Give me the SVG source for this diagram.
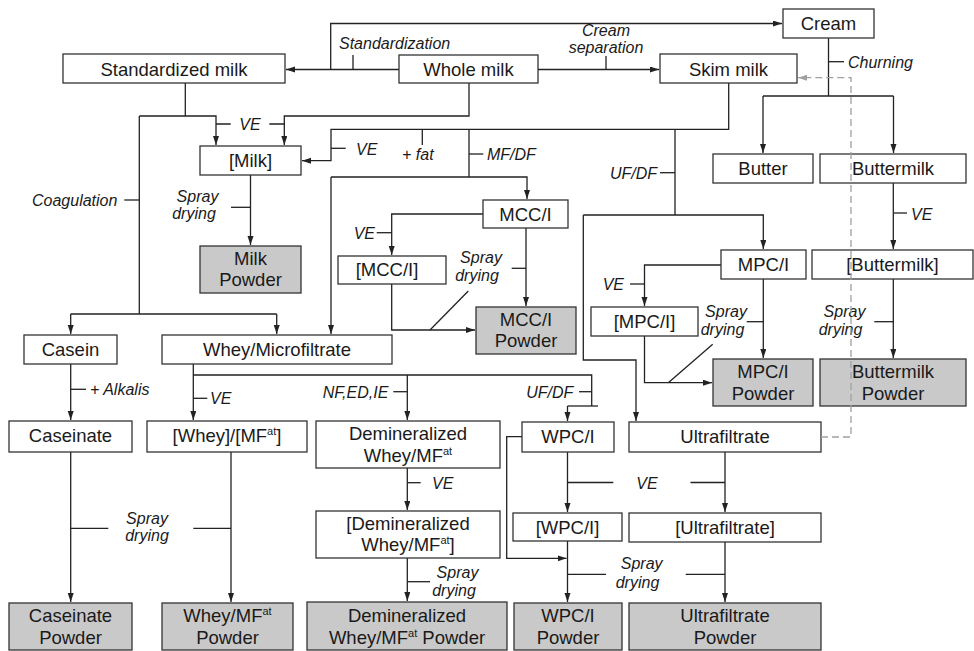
<svg xmlns="http://www.w3.org/2000/svg" width="974" height="651" viewBox="0 0 974 651">
<style>
.b rect{fill:#fff;stroke:#333;stroke-width:1.3}
.p rect{fill:#c9c9c9;stroke:#333;stroke-width:1.3}
.b text,.p text{font-family:"Liberation Sans",Arial,sans-serif;font-size:18.5px;fill:#1a1a1a;text-anchor:middle}
.c path{fill:none;stroke:#222;stroke-width:1.3}
.c .a{marker-end:url(#ah)}
.l text{font-family:"Liberation Sans",Arial,sans-serif;font-size:16px;font-style:italic;fill:#1a1a1a}
.m{text-anchor:middle}
.e{text-anchor:end}
.d{fill:none;stroke:#a0a0a0;stroke-width:1.3;stroke-dasharray:7,4;marker-end:url(#ahg)}
</style>
<defs>
<marker id="ah" markerUnits="userSpaceOnUse" markerWidth="10" markerHeight="8" refX="9" refY="3" orient="auto"><path d="M0,0 L9,3 L0,6 z" fill="#222"/></marker>
<marker id="ahg" markerUnits="userSpaceOnUse" markerWidth="10" markerHeight="8" refX="9" refY="3" orient="auto"><path d="M0,0 L9,3 L0,6 z" fill="#a0a0a0"/></marker>
</defs>
<rect width="974" height="651" fill="#fff"/>
<g class="c" id="connectors">
<path class="a" d="M399,69.5 H286"/>
<path class="a" d="M330.7,69.5 V23.5 H782"/>
<path d="M353,69.5 V55"/>
<path class="a" d="M538,69.5 H659"/>
<path d="M606,69.5 V56"/>
<path d="M828.5,38 V96"/>
<path d="M828.5,61.7 H844"/>
<path d="M763,96 H893.5"/>
<path class="a" d="M763,96 V153"/>
<path class="a" d="M893.5,96 V153"/>
<path d="M185.3,83 V116"/>
<path class="a" d="M139.3,116 H216 V145"/>
<path class="a" d="M469,83 V116 H284.3 V145"/>
<path d="M216,124 H230.7 M269.3,124 H284.3"/>
<path d="M139.3,116 V314"/>
<path d="M124.3,200 H139.3"/>
<path d="M70.7,314 H276.7"/>
<path class="a" d="M70.7,314 V334"/>
<path class="a" d="M276.7,314 V334"/>
<path class="a" d="M250.5,175 V245"/>
<path d="M231,207.3 H250.5"/>
<path class="a" d="M728.7,83 V129.3 H331 V160.7 H302"/>
<path d="M331,148.3 H345.7"/>
<path d="M422.3,129.3 V145"/>
<path d="M469,129.3 V177"/>
<path d="M469,154 H483.3"/>
<path class="a" d="M331,177 H527 V199"/>
<path class="a" d="M331,177 V334"/>
<path d="M675,129.3 V215"/>
<path d="M660,172.7 H675"/>
<path class="a" d="M583.3,215 H763.3 V249"/>
<path class="a" d="M583.3,215 V360 H636 V421"/>
<path class="a" d="M483,214 H391.7 V255"/>
<path d="M376.7,232.7 H391.7"/>
<path class="a" d="M526,228 V306"/>
<path d="M511.7,268.3 H526"/>
<path class="a" d="M391.7,284 V330 H475"/>
<path d="M430,330 L468.3,291"/>
<path class="a" d="M721,265 H644.5 V306"/>
<path d="M630,284 H644.5"/>
<path class="a" d="M763.3,279 V358"/>
<path d="M746.7,321.7 H763.3"/>
<path class="a" d="M644.5,336 V382.7 H712"/>
<path d="M668.3,382.7 L712.7,344.3"/>
<path class="a" d="M893.3,183 V249"/>
<path d="M893.3,213 H907"/>
<path class="a" d="M893.3,279 V358"/>
<path d="M874.3,321.7 H893.3"/>
<path class="a" d="M70.7,364 V420"/>
<path d="M70.7,389.3 H86"/>
<path class="a" d="M193.3,364 V420"/>
<path d="M193.3,398.3 H207.3"/>
<path d="M193.3,375 H591.7 V406"/>
<path d="M567.5,406 H598"/>
<path class="a" d="M567.5,406 V421"/>
<path class="a" d="M407.3,375 V420"/>
<path d="M393.3,391.7 H407.3"/>
<path d="M579,391.7 H591.7"/>
<path class="a" d="M407.3,468 V510"/>
<path d="M407.3,482.7 H420.7"/>
<path class="a" d="M407.3,558 V601"/>
<path d="M407.3,581.7 H430"/>
<path class="a" d="M567.5,452 V512"/>
<path d="M567.5,482.5 H613.3"/>
<path class="a" d="M522,436.7 H506.7 V558.3 H566.5"/>
<path class="a" d="M567.5,541 V602"/>
<path d="M567.5,574.3 H606"/>
<path class="a" d="M725,452 V512"/>
<path d="M690.5,482.5 H725"/>
<path class="a" d="M725,542 V602"/>
<path d="M685.7,574.3 H725"/>
<path class="a" d="M70.7,452 V602"/>
<path d="M70.7,528.3 H108.3"/>
<path class="a" d="M231,452 V602"/>
<path d="M193.3,528.3 H231"/>
</g>
<g class="l" id="labels">
<text x="339" y="49">Standardization</text>
<text class="m" x="606" y="35.5">Cream</text>
<text class="m" x="606" y="53">separation</text>
<text x="848" y="67.5">Churning</text>
<text class="m" x="250" y="130">VE</text>
<text x="356" y="155">VE</text>
<text x="402" y="160">+ fat</text>
<text x="487" y="160">MF/DF</text>
<text class="e" x="657" y="178.5">UF/DF</text>
<text x="32" y="206">Coagulation</text>
<text class="m" x="197.5" y="202">Spray</text>
<text class="m" x="194" y="219">drying</text>
<text class="e" x="375" y="238.5">VE</text>
<text class="m" x="481" y="262.5">Spray</text>
<text class="m" x="477" y="281">drying</text>
<text class="e" x="624" y="290">VE</text>
<text class="m" x="726" y="316.5">Spray</text>
<text class="m" x="722.5" y="335">drying</text>
<text class="m" x="844.5" y="316.5">Spray</text>
<text class="m" x="840.5" y="335">drying</text>
<text x="911" y="219.5">VE</text>
<text x="90" y="395">+ Alkalis</text>
<text x="210" y="404">VE</text>
<text class="e" x="388.3" y="397.5">NF,ED,IE</text>
<text class="e" x="573.3" y="397.5">UF/DF</text>
<text x="432" y="488.5">VE</text>
<text class="m" x="647" y="488.5">VE</text>
<text class="m" x="147" y="523.5">Spray</text>
<text class="m" x="147" y="541">drying</text>
<text class="m" x="457.5" y="577.5">Spray</text>
<text class="m" x="454" y="595.5">drying</text>
<text class="m" x="641.7" y="569">Spray</text>
<text class="m" x="637.5" y="588">drying</text>
</g>
<g class="b" id="standardized-milk"><rect x="63" y="54" width="222" height="29"/><text x="174" y="75.5">Standardized milk</text></g>
<g class="b" id="whole-milk"><rect x="399" y="55" width="139" height="28"/><text x="468.5" y="75.5">Whole milk</text></g>
<g class="b" id="skim-milk"><rect x="660" y="54" width="137" height="29"/><text x="728.5" y="75.5">Skim milk</text></g>
<g class="b" id="cream"><rect x="783" y="9" width="91" height="29"/><text x="828.5" y="30">Cream</text></g>
<g class="b" id="butter"><rect x="713" y="154" width="100" height="29"/><text x="763" y="175">Butter</text></g>
<g class="b" id="buttermilk"><rect x="820" y="154" width="146" height="29"/><text x="893" y="175">Buttermilk</text></g>
<g class="b" id="milk-conc"><rect x="200" y="146" width="101" height="29"/><text x="250.5" y="167">[Milk]</text></g>
<g class="p" id="milk-powder"><rect x="200" y="246" width="101" height="47"/><text x="250.5" y="265">Milk</text><text x="250.5" y="286">Powder</text></g>
<g class="b" id="mcci"><rect x="483" y="200" width="85" height="28"/><text x="525.5" y="221">MCC/I</text></g>
<g class="b" id="mcci-conc"><rect x="338" y="256" width="108" height="28"/><text x="387" y="276">[MCC/I]</text></g>
<g class="p" id="mcci-powder"><rect x="476" y="307" width="100" height="47"/><text x="526" y="325.5">MCC/I</text><text x="526" y="347">Powder</text></g>
<g class="b" id="mpci"><rect x="721" y="250" width="85" height="29"/><text x="763.5" y="271">MPC/I</text></g>
<g class="b" id="mpci-conc"><rect x="591" y="307" width="107" height="29"/><text x="644.5" y="328">[MPC/I]</text></g>
<g class="p" id="mpci-powder"><rect x="713" y="359" width="100" height="47"/><text x="763" y="377.5">MPC/I</text><text x="763" y="399.5">Powder</text></g>
<g class="b" id="buttermilk-conc"><rect x="812" y="250" width="161" height="29"/><text x="892.5" y="271">[Buttermilk]</text></g>
<g class="p" id="buttermilk-powder"><rect x="820" y="359" width="146" height="47"/><text x="893" y="377.5">Buttermilk</text><text x="893" y="399.5">Powder</text></g>
<g class="b" id="casein"><rect x="24" y="335" width="93" height="29"/><text x="70.5" y="355.5">Casein</text></g>
<g class="b" id="whey"><rect x="162" y="335" width="230" height="29"/><text x="277" y="355.5">Whey/Microfiltrate</text></g>
<g class="b" id="caseinate"><rect x="9" y="421" width="123" height="31"/><text x="70.5" y="442">Caseinate</text></g>
<g class="b" id="whey-conc"><rect x="147" y="421" width="160" height="31"/><text x="227" y="442">[Whey]/[MF<tspan font-size="11" dy="-7">at</tspan><tspan dy="7">]</tspan></text></g>
<g class="b" id="demin"><rect x="316" y="421" width="184" height="47"/><text x="408" y="440">Demineralized</text><text x="408" y="461.5">Whey/MF<tspan font-size="11" dy="-7">at</tspan></text></g>
<g class="b" id="demin-conc"><rect x="316" y="511" width="184" height="47"/><text x="408" y="529.5">[Demineralized</text><text x="408" y="551">Whey/MF<tspan font-size="11" dy="-7">at</tspan><tspan dy="7">]</tspan></text></g>
<g class="b" id="wpci"><rect x="522" y="422" width="92" height="30"/><text x="568" y="442.5">WPC/I</text></g>
<g class="b" id="ultrafiltrate"><rect x="629" y="422" width="192" height="30"/><text x="725" y="442.5">Ultrafiltrate</text></g>
<g class="b" id="wpci-conc"><rect x="513" y="513" width="109" height="28"/><text x="567.5" y="533.5">[WPC/I]</text></g>
<g class="b" id="ultrafiltrate-conc"><rect x="629" y="513" width="192" height="29"/><text x="725" y="533.5">[Ultrafiltrate]</text></g>
<g class="p" id="caseinate-powder"><rect x="9" y="603" width="123" height="47"/><text x="70.5" y="622">Caseinate</text><text x="70.5" y="643.5">Powder</text></g>
<g class="p" id="whey-powder"><rect x="162" y="603" width="131" height="47"/><text x="227.5" y="622">Whey/MF<tspan font-size="11" dy="-7">at</tspan></text><text x="227.5" y="643.5">Powder</text></g>
<g class="p" id="demin-powder"><rect x="307" y="602" width="200" height="48"/><text x="407" y="622">Demineralized</text><text x="407" y="643.5">Whey/MF<tspan font-size="11" dy="-7">at</tspan><tspan dy="7"> Powder</tspan></text></g>
<g class="p" id="wpci-powder"><rect x="514" y="603" width="108" height="47"/><text x="568" y="622">WPC/I</text><text x="568" y="643.5">Powder</text></g>
<g class="p" id="ultrafiltrate-powder"><rect x="629" y="603" width="192" height="47"/><text x="725" y="622">Ultrafiltrate</text><text x="725" y="643.5">Powder</text></g>
<g id="recycle"><path class="d" d="M821,437 H851 V77.7 H798"/></g>
</svg>
